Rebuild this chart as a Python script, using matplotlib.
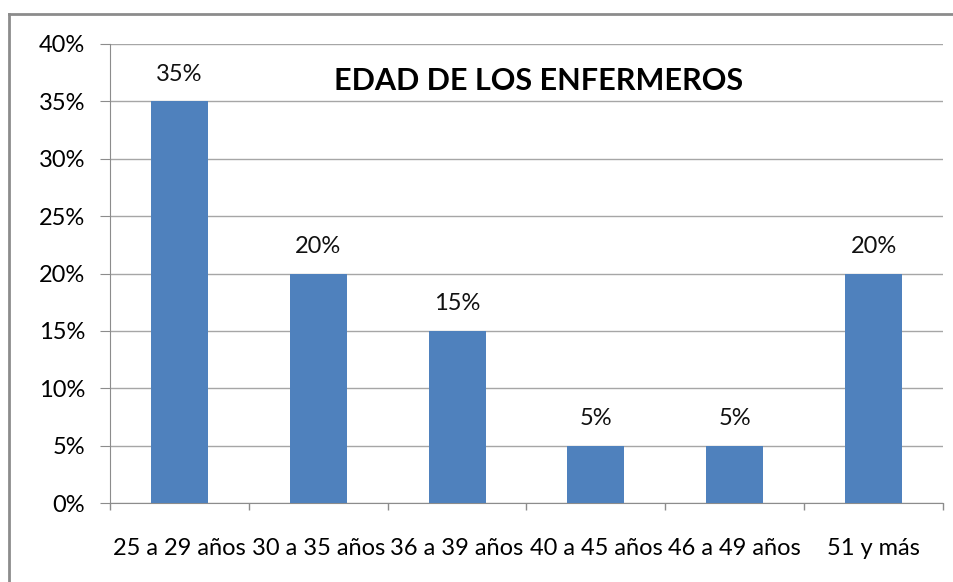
import matplotlib.pyplot as plt
from matplotlib.lines import Line2D
from matplotlib.ticker import PercentFormatter

categorias = ["25 a 29 años", "30 a 35 años", "36 a 39 años", "40 a 45 años", "46 a 49 años", "51 y más"]
porcentajes = [35, 20, 15, 5, 5, 20]
ticks_y = [0, 5, 10, 15, 20, 25, 30, 35, 40]

plt.rcParams['font.family'] = ['Lato', 'DejaVu Sans']

fig = plt.figure(figsize=(9.54, 5.82), dpi=100)
W, H = 954, 582

# marco exterior del grafico (solo se ven el borde superior e izquierdo)
fig.add_artist(Line2D([9/W, 1.0], [1 - 14/H, 1 - 14/H], transform=fig.transFigure,
                      color="#8c8c8c", linewidth=2))
fig.add_artist(Line2D([9/W, 9/W], [0.0, 1 - 14/H], transform=fig.transFigure,
                      color="#8c8c8c", linewidth=2))

ax = fig.add_axes([110/W, 1 - 503/H, (943 - 110)/W, (503 - 44)/H])

x = list(range(len(categorias)))
ax.bar(x, porcentajes, width=0.41, color="#4f81bd", zorder=3)
for xi, v in zip(x, porcentajes):
    ax.text(xi, v + 2.35, f"{v}%", ha="center", va="center", fontsize=17, color="#111111")

ax.set_xlim(-0.5, len(categorias) - 0.5)
ax.set_ylim(0, 40)
ax.set_yticks(ticks_y)
ax.yaxis.set_major_formatter(PercentFormatter(decimals=0))
ax.grid(axis="y", color="#a6a6a6", linewidth=1, zorder=0)
ax.set_xticks(x)
ax.set_xticklabels(categorias, fontsize=17)
ax.set_xticks([i + 0.5 for i in range(-1, len(categorias))], minor=True)
ax.tick_params(axis="x", which="major", length=0, pad=25)
ax.tick_params(axis="x", which="minor", length=5, color="#8c8c8c", width=1)
ax.tick_params(axis="y", length=7, color="#8c8c8c", labelsize=17, pad=11)

for s in ["top", "right"]:
    ax.spines[s].set_visible(False)
ax.spines["left"].set_color("#8c8c8c")
ax.spines["bottom"].set_color("#8c8c8c")

ax.text(0.514, 0.92, "EDAD DE LOS ENFERMEROS", transform=ax.transAxes, ha="center", va="center",
        fontsize=22, fontweight="bold", color="black")

fig.savefig("out.png", dpi=100)
